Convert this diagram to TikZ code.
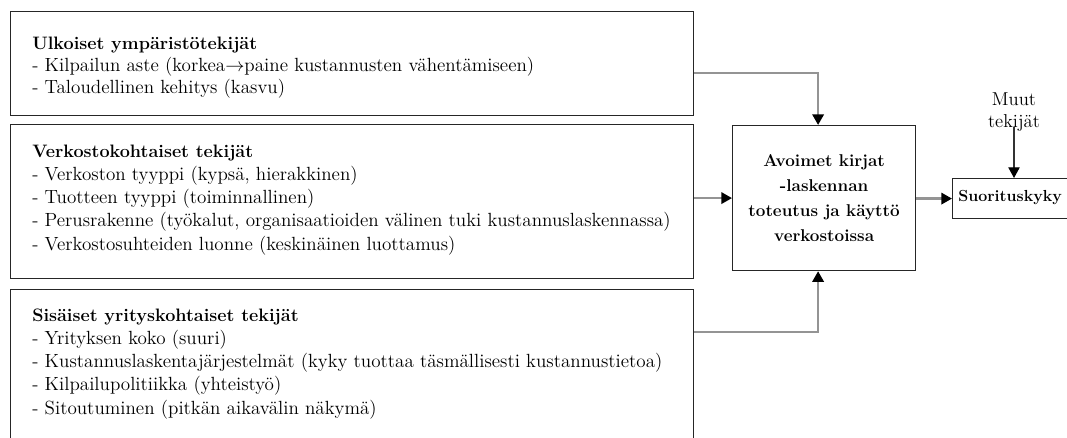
\documentclass[tikz,border=0pt]{standalone}
\usetikzlibrary{arrows.meta,calc}
\newcommand{\boxtitle}[1]{{\fontsize{13.5}{17.4}\selectfont\bfseries #1}}
\begin{document}
\begin{tikzpicture}[x=0.75pt,y=-0.75pt,
  box/.style={draw=black!85, line width=0.9pt, inner sep=0pt, anchor=north west},
  txt/.style={anchor=north west, inner sep=0pt, align=left, font=\fontsize{14.3}{17.4}\selectfont},
  link/.style={draw=black!42, line width=1.8pt, -{Triangle[length=8pt,width=8.5pt,color=black]}},
  thin link/.style={draw=black!80, line width=0.9pt, -{Triangle[length=8pt,width=8.5pt,color=black]}},
]
\clip (0,0) rectangle (1067,438);

% factor boxes on the left
\node[box, minimum width=512.25pt, minimum height=78pt] (b1) at (10,11) {};
\node[box, minimum width=512.25pt, minimum height=115.5pt] (b2) at (10,124) {};
\node[box, minimum width=512.25pt, minimum height=130pt] (b3) at (10,289) {};

\node[txt, font=\fontsize{14.3}{16.5}\selectfont] (t1) at (32,36.5) {\boxtitle{Ulkoiset ympäristötekijät}\\
- Kilpailun aste (korkea$\rightarrow$paine kustannusten vähentämiseen)\\
- Taloudellinen kehitys (kasvu)};

\node[txt] (t2) at (32,144.5) {\boxtitle{Verkostokohtaiset tekijät}\\
- Verkoston tyyppi (kypsä, hierakkinen)\\
- Tuotteen tyyppi (toiminnallinen)\\
- Perusrakenne (työkalut, organisaatioiden välinen tuki kustannuslaskennassa)\\
- Verkostosuhteiden luonne (keskinäinen luottamus)};

\node[txt] (t3) at (32,308.5) {\boxtitle{Sisäiset yrityskohtaiset tekijät}\\
- Yrityksen koko (suuri)\\
- Kustannuslaskentajärjestelmät (kyky tuottaa täsmällisesti kustannustietoa)\\
- Kilpailupolitiikka (yhteistyö)\\
- Sitoutuminen (pitkän aikavälin näkymä)};

% central box
\node[box, minimum width=137.25pt, minimum height=108.75pt] (cb) at (732,125) {};
\node[align=center, inner sep=0pt, font=\fontsize{12.8}{18.75}\selectfont\bfseries] (ct) at (cb.center)
  {Avoimet kirjat\\-laskennan\hspace*{1.2em}\\toteutus ja käyttö\\verkostoissa};

% performance box, running past the right edge
\node[box, minimum width=112.5pt, minimum height=30pt] (sk) at (952,178) {};
\node[anchor=west, inner sep=0pt, font=\fontsize{12}{16}\selectfont\bfseries] (skt) at (958,198) {Suorituskyky};

% other factors
\node[align=center, inner sep=0pt, font=\fontsize{14}{16}\selectfont] (mt) at (1014,112) {Muut\\tekijät};

% connectors
\draw[link] ($(b1.north east)+(0,62)$) -| ($(cb.north)+(-6,0)$);
\draw[link] (b2.east |- cb.west) -- (cb.west);
\draw[link] ($(b3.north east)+(0,43)$) -| ($(cb.south)+(-6,0)$);
\draw[link] (cb.east |- sk.west) -- (sk.west);
\draw[thin link] ($(mt.south)+(0,-4)$) -- (mt.south |- sk.north);
\end{tikzpicture}
\end{document}
